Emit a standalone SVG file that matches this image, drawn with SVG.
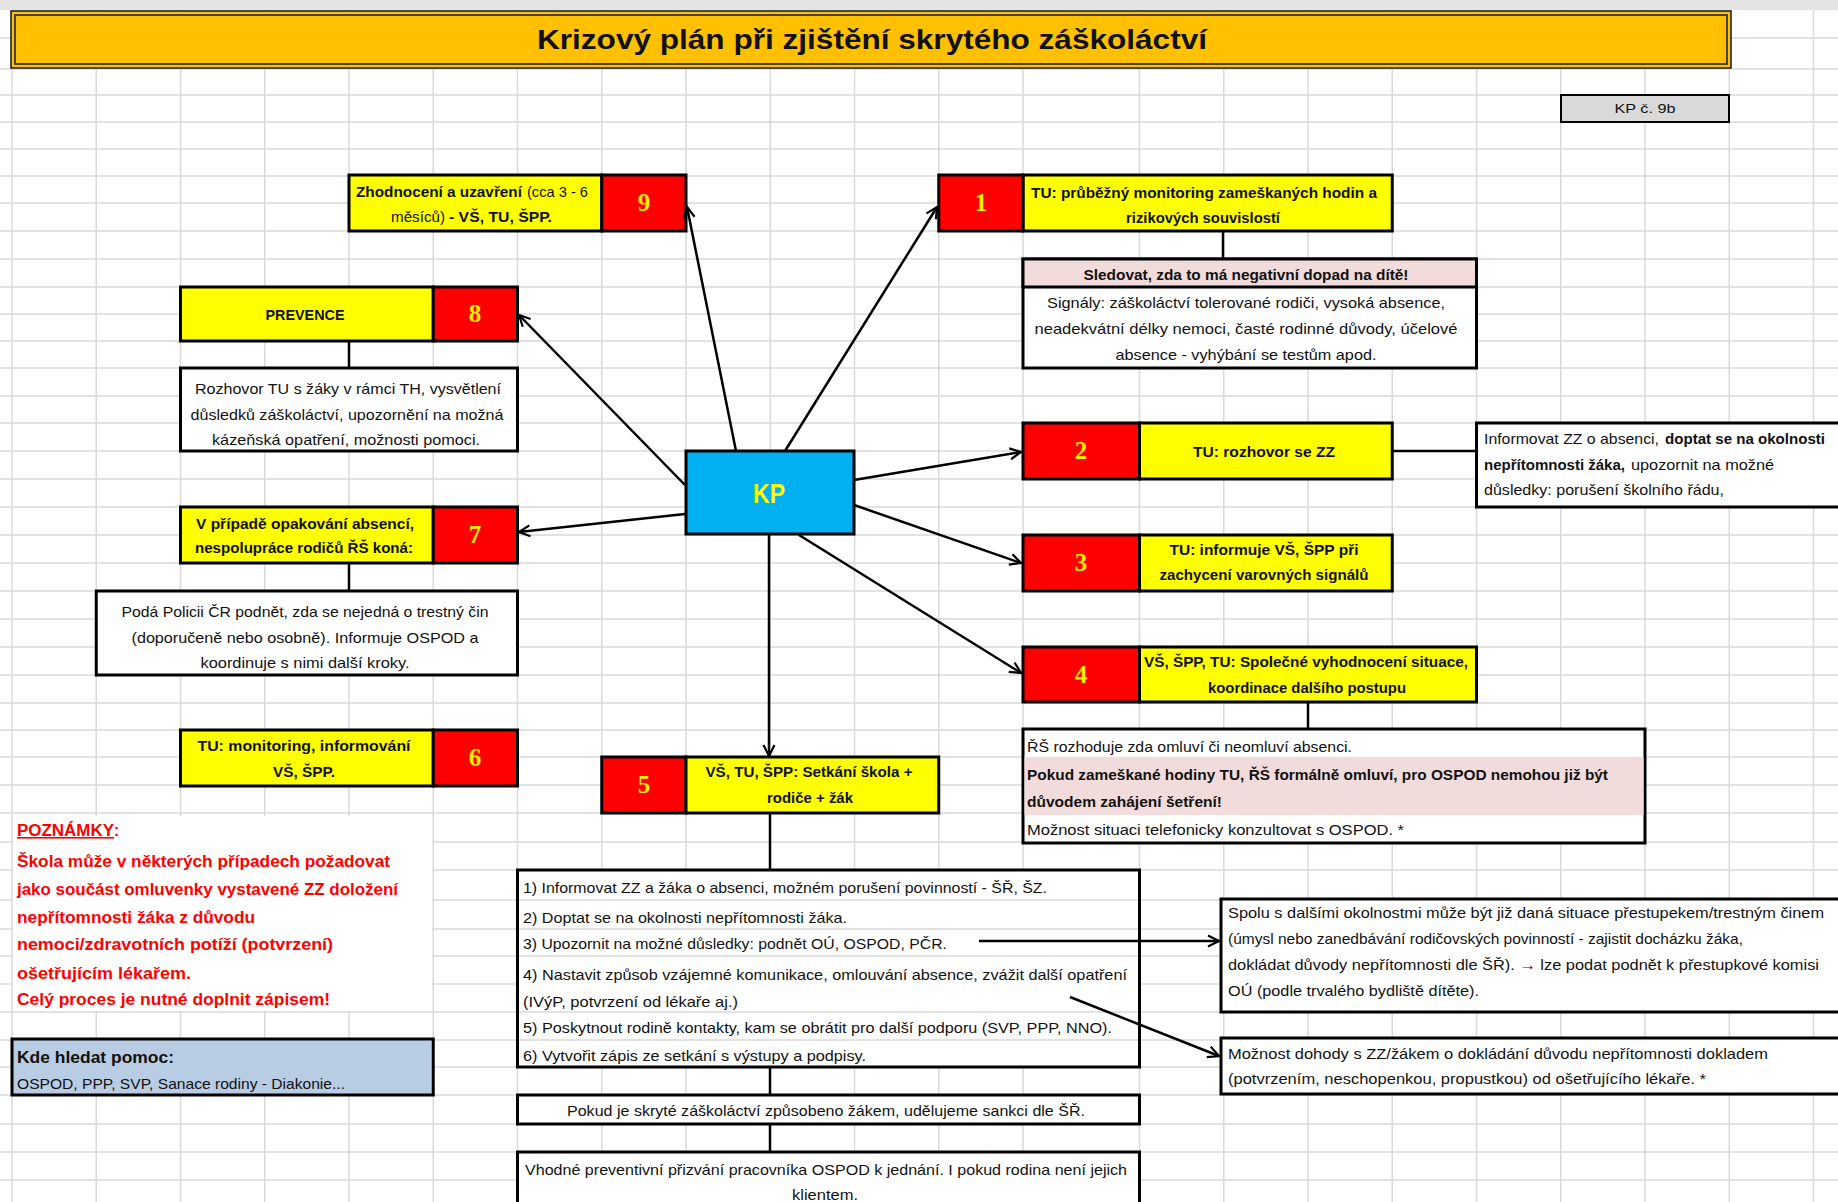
<svg xmlns="http://www.w3.org/2000/svg" width="1838" height="1202" viewBox="0 0 1838 1202">
<style>
  .grid line { stroke: #d9d9d9; stroke-width: 1.5; }
  .bx { stroke: #000; stroke-width: 3; }
  .thin { stroke: #000; stroke-width: 2; }
  .yel { fill: #ffff00; }
  .red { fill: #ff0000; }
  .wht { fill: #ffffff; }
  .pink { fill: #f2dcdb; }
  .t { font-family: "Liberation Sans", Arial, sans-serif; font-size: 15px; fill: #111; }
  .b { font-weight: bold; font-size: 15.5px; }
  .num { font-family: "Liberation Serif", "Times New Roman", serif; font-weight: bold; font-size: 25px; fill: #ffee00; text-anchor: middle; }
  .m { text-anchor: middle; }
  .note { font-family: "Liberation Sans", Arial, sans-serif; font-size: 16px; font-weight: bold; fill: #ff0000; }
  .conn line { stroke: #000; stroke-width: 2.5; fill: none; }
  .conn .arr { marker-end: url(#ah); }
</style>
<defs>
  <marker id="ah" viewBox="0 0 14 14" refX="12.5" refY="7" markerWidth="14" markerHeight="14" markerUnits="userSpaceOnUse" orient="auto">
    <path d="M1.5,1.5 L12.5,7 L1.5,12.5" fill="none" stroke="#000" stroke-width="2.2"/>
  </marker>
</defs>

<!-- sheet background and cell grid -->
<rect x="0" y="0" width="1838" height="1202" fill="#ffffff"/>
<rect x="0" y="0" width="1838" height="10" fill="#e4e4e4"/>
<g class="grid">
  <line x1="0" y1="38" x2="1838" y2="38"/>
  <line x1="0" y1="69" x2="1838" y2="69"/>
  <line x1="0" y1="95" x2="1838" y2="95"/>
  <line x1="0" y1="122" x2="1838" y2="122"/>
  <line x1="0" y1="149" x2="1838" y2="149"/>
  <line x1="0" y1="176" x2="1838" y2="176"/>
  <line x1="0" y1="203" x2="1838" y2="203"/>
  <line x1="0" y1="231" x2="1838" y2="231"/>
  <line x1="0" y1="259" x2="1838" y2="259"/>
  <line x1="0" y1="287" x2="1838" y2="287"/>
  <line x1="0" y1="314" x2="1838" y2="314"/>
  <line x1="0" y1="341" x2="1838" y2="341"/>
  <line x1="0" y1="368" x2="1838" y2="368"/>
  <line x1="0" y1="396" x2="1838" y2="396"/>
  <line x1="0" y1="423" x2="1838" y2="423"/>
  <line x1="0" y1="451" x2="1838" y2="451"/>
  <line x1="0" y1="479" x2="1838" y2="479"/>
  <line x1="0" y1="507" x2="1838" y2="507"/>
  <line x1="0" y1="535" x2="1838" y2="535"/>
  <line x1="0" y1="563" x2="1838" y2="563"/>
  <line x1="0" y1="591" x2="1838" y2="591"/>
  <line x1="0" y1="619" x2="1838" y2="619"/>
  <line x1="0" y1="647" x2="1838" y2="647"/>
  <line x1="0" y1="675" x2="1838" y2="675"/>
  <line x1="0" y1="703" x2="1838" y2="703"/>
  <line x1="0" y1="730" x2="1838" y2="730"/>
  <line x1="0" y1="757" x2="1838" y2="757"/>
  <line x1="0" y1="785" x2="1838" y2="785"/>
  <line x1="0" y1="813" x2="1838" y2="813"/>
  <line x1="0" y1="842" x2="1838" y2="842"/>
  <line x1="0" y1="870" x2="1838" y2="870"/>
  <line x1="0" y1="900" x2="1838" y2="900"/>
  <line x1="0" y1="929" x2="1838" y2="929"/>
  <line x1="0" y1="956" x2="1838" y2="956"/>
  <line x1="0" y1="984" x2="1838" y2="984"/>
  <line x1="0" y1="1012" x2="1838" y2="1012"/>
  <line x1="0" y1="1040" x2="1838" y2="1040"/>
  <line x1="0" y1="1067" x2="1838" y2="1067"/>
  <line x1="0" y1="1095" x2="1838" y2="1095"/>
  <line x1="0" y1="1124" x2="1838" y2="1124"/>
  <line x1="0" y1="1152" x2="1838" y2="1152"/>
  <line x1="0" y1="1180" x2="1838" y2="1180"/>
  <line x1="12" y1="10" x2="12" y2="1202"/>
  <line x1="96.25" y1="10" x2="96.25" y2="1202"/>
  <line x1="180.5" y1="10" x2="180.5" y2="1202"/>
  <line x1="264.75" y1="10" x2="264.75" y2="1202"/>
  <line x1="349" y1="10" x2="349" y2="1202"/>
  <line x1="433.25" y1="10" x2="433.25" y2="1202"/>
  <line x1="517.5" y1="10" x2="517.5" y2="1202"/>
  <line x1="601.75" y1="10" x2="601.75" y2="1202"/>
  <line x1="686" y1="10" x2="686" y2="1202"/>
  <line x1="770.25" y1="10" x2="770.25" y2="1202"/>
  <line x1="854.5" y1="10" x2="854.5" y2="1202"/>
  <line x1="938.75" y1="10" x2="938.75" y2="1202"/>
  <line x1="1023" y1="10" x2="1023" y2="1202"/>
  <line x1="1139.5" y1="10" x2="1139.5" y2="1202"/>
  <line x1="1223.75" y1="10" x2="1223.75" y2="1202"/>
  <line x1="1308" y1="10" x2="1308" y2="1202"/>
  <line x1="1392.25" y1="10" x2="1392.25" y2="1202"/>
  <line x1="1476.5" y1="10" x2="1476.5" y2="1202"/>
  <line x1="1560.75" y1="10" x2="1560.75" y2="1202"/>
  <line x1="1645" y1="10" x2="1645" y2="1202"/>
  <line x1="1729.25" y1="10" x2="1729.25" y2="1202"/>
  <line x1="1813.5" y1="10" x2="1813.5" y2="1202"/>
</g>

<!-- title banner -->
<g id="title">
  <rect x="11" y="11" width="1720" height="57" fill="#ffc000" stroke="#222" stroke-width="1.6"/>
  <rect x="15" y="15" width="1712" height="49" fill="none" stroke="#222" stroke-width="1.6"/>
  <text class="t b m" x="872" y="49" style="font-size:28px" textLength="670" lengthAdjust="spacingAndGlyphs">Krizový plán při zjištění skrytého záškoláctví</text>
</g>

<g id="kp-code">
  <rect x="1561" y="95" width="168" height="27" fill="#d9d9d9" class="thin"/>
  <text class="t m" x="1645" y="113" style="font-size:13px" textLength="61" lengthAdjust="spacingAndGlyphs">KP č. 9b</text>
</g>

<!-- central node -->
<g id="kp">
  <rect x="686" y="451" width="168" height="83" fill="#00b0f0" class="bx"/>
  <text class="t b m" x="769" y="503" style="font-size:28px;fill:#ffff00" textLength="32" lengthAdjust="spacingAndGlyphs">KP</text>
</g>

<!-- step 9 -->
<g id="step9">
  <rect x="349" y="175" width="252.75" height="56" class="yel bx"/>
  <rect x="601.75" y="175" width="84.25" height="56" class="red bx"/>
  <text class="t b" x="356" y="197" textLength="166" lengthAdjust="spacingAndGlyphs">Zhodnocení a uzavření</text>
  <text class="t" x="527" y="197" textLength="61" lengthAdjust="spacingAndGlyphs">(cca 3 - 6</text>
  <text class="t" x="391" y="222" textLength="54" lengthAdjust="spacingAndGlyphs">měsíců)</text>
  <text class="t b" x="449" y="222" textLength="103" lengthAdjust="spacingAndGlyphs">- VŠ, TU, ŠPP.</text>
  <text class="num" x="644" y="211">9</text>
</g>

<!-- step 1 -->
<g id="step1">
  <rect x="1023" y="175" width="369.25" height="56" class="yel bx"/>
  <rect x="938.75" y="175" width="84.25" height="56" class="red bx"/>
  <text class="t b m" x="1204" y="198" textLength="346" lengthAdjust="spacingAndGlyphs">TU: průběžný monitoring zameškaných hodin a</text>
  <text class="t b m" x="1203" y="223" textLength="154" lengthAdjust="spacingAndGlyphs">rizikových souvislostí</text>
  <text class="num" x="981" y="211">1</text>
</g>

<g id="signals">
  <rect x="1023" y="259" width="453.5" height="109" class="wht bx"/>
  <rect x="1023" y="259" width="453.5" height="28" class="pink bx"/>
  <text class="t b m" x="1246" y="280" textLength="325" lengthAdjust="spacingAndGlyphs">Sledovat, zda to má negativní dopad na dítě!</text>
  <text class="t m" x="1246" y="308" textLength="398" lengthAdjust="spacingAndGlyphs">Signály: záškoláctví tolerované rodiči, vysoká absence,</text>
  <text class="t m" x="1246" y="334" textLength="423" lengthAdjust="spacingAndGlyphs">neadekvátní délky nemoci, časté rodinné důvody, účelové</text>
  <text class="t m" x="1246" y="360" textLength="261" lengthAdjust="spacingAndGlyphs">absence - vyhýbání se testům apod.</text>
</g>

<!-- step 8 -->
<g id="step8">
  <rect x="180.5" y="287" width="252.75" height="54" class="yel bx"/>
  <rect x="433.25" y="287" width="84.25" height="54" class="red bx"/>
  <text class="t b m" x="305" y="320" textLength="79" lengthAdjust="spacingAndGlyphs">PREVENCE</text>
  <text class="num" x="475" y="322">8</text>
</g>

<g id="prevention-note">
  <rect x="180.5" y="368" width="337" height="83" class="wht bx"/>
  <text class="t m" x="348" y="394" textLength="306" lengthAdjust="spacingAndGlyphs">Rozhovor TU s žáky v rámci TH, vysvětlení</text>
  <text class="t m" x="347" y="420" textLength="313" lengthAdjust="spacingAndGlyphs">důsledků záškoláctví, upozornění na možná</text>
  <text class="t m" x="346" y="445" textLength="268" lengthAdjust="spacingAndGlyphs">kázeňská opatření, možnosti pomoci.</text>
</g>

<!-- step 7 -->
<g id="step7">
  <rect x="180.5" y="507" width="252.75" height="56" class="yel bx"/>
  <rect x="433.25" y="507" width="84.25" height="56" class="red bx"/>
  <text class="t b m" x="305" y="529" textLength="218" lengthAdjust="spacingAndGlyphs">V případě opakování absencí,</text>
  <text class="t b m" x="304" y="553" textLength="218" lengthAdjust="spacingAndGlyphs">nespolupráce rodičů ŘŠ koná:</text>
  <text class="num" x="475" y="543">7</text>
</g>

<g id="police-note">
  <rect x="96.25" y="591" width="421.25" height="84" class="wht bx"/>
  <text class="t m" x="305" y="617" textLength="367" lengthAdjust="spacingAndGlyphs">Podá Policii ČR podnět, zda se nejedná o trestný čin</text>
  <text class="t m" x="305" y="643" textLength="347" lengthAdjust="spacingAndGlyphs">(doporučeně nebo osobně). Informuje OSPOD a</text>
  <text class="t m" x="305" y="668" textLength="209" lengthAdjust="spacingAndGlyphs">koordinuje s nimi další kroky.</text>
</g>

<!-- step 6 -->
<g id="step6">
  <rect x="180.5" y="730" width="252.75" height="56" class="yel bx"/>
  <rect x="433.25" y="730" width="84.25" height="56" class="red bx"/>
  <text class="t b m" x="304" y="751" textLength="213" lengthAdjust="spacingAndGlyphs">TU: monitoring, informování</text>
  <text class="t b m" x="304" y="777" textLength="62" lengthAdjust="spacingAndGlyphs">VŠ, ŠPP.</text>
  <text class="num" x="475" y="766">6</text>
</g>

<!-- step 5 -->
<g id="step5">
  <rect x="601.75" y="757" width="84.25" height="56" class="red bx"/>
  <rect x="686" y="757" width="252.75" height="56" class="yel bx"/>
  <text class="t b m" x="809" y="777" textLength="207" lengthAdjust="spacingAndGlyphs">VŠ, TU, ŠPP: Setkání škola +</text>
  <text class="t b m" x="810" y="803" textLength="86" lengthAdjust="spacingAndGlyphs">rodiče + žák</text>
  <text class="num" x="644" y="793">5</text>
</g>

<g id="meeting-steps">
  <rect x="517.5" y="870" width="622" height="197" class="wht bx"/>
  <g class="grid">
    <line x1="519" y1="900" x2="1138" y2="900"/>
    <line x1="519" y1="929" x2="1138" y2="929"/>
    <line x1="519" y1="956" x2="1138" y2="956"/>
    <line x1="519" y1="1012" x2="1138" y2="1012"/>
    <line x1="519" y1="1040" x2="1138" y2="1040"/>
  </g>
  <text class="t" x="523" y="893" textLength="524" lengthAdjust="spacingAndGlyphs">1) Informovat ZZ a žáka o absenci, možném porušení povinností - ŠŘ, ŠZ.</text>
  <text class="t" x="523" y="923" textLength="324" lengthAdjust="spacingAndGlyphs">2) Doptat se na okolnosti nepřítomnosti žáka.</text>
  <text class="t" x="523" y="949" textLength="424" lengthAdjust="spacingAndGlyphs">3) Upozornit na možné důsledky: podnět OÚ, OSPOD, PČR.</text>
  <text class="t" x="523" y="980" textLength="604" lengthAdjust="spacingAndGlyphs">4) Nastavit způsob vzájemné komunikace, omlouvání absence, zvážit další opatření</text>
  <text class="t" x="523" y="1007" textLength="215" lengthAdjust="spacingAndGlyphs">(IVýP, potvrzení od lékaře aj.)</text>
  <text class="t" x="523" y="1033" textLength="589" lengthAdjust="spacingAndGlyphs">5) Poskytnout rodině kontakty, kam se obrátit pro další podporu (SVP, PPP, NNO).</text>
  <text class="t" x="523" y="1061" textLength="343" lengthAdjust="spacingAndGlyphs">6) Vytvořit zápis ze setkání s výstupy a podpisy.</text>
</g>

<g id="sanction">
  <rect x="517.5" y="1095" width="622" height="29" class="wht bx"/>
  <text class="t m" x="826" y="1116" textLength="518" lengthAdjust="spacingAndGlyphs">Pokud je skryté záškoláctví způsobeno žákem, udělujeme sankci dle ŠŘ.</text>
</g>

<g id="ospod-invite">
  <rect x="517.5" y="1152" width="622" height="70" class="wht bx"/>
  <text class="t m" x="826" y="1175" textLength="602" lengthAdjust="spacingAndGlyphs">Vhodné preventivní přizvání pracovníka OSPOD k jednání. I pokud rodina není jejich</text>
  <text class="t m" x="825" y="1200" textLength="66" lengthAdjust="spacingAndGlyphs">klientem.</text>
</g>

<!-- step 2 -->
<g id="step2">
  <rect x="1023" y="423" width="116.5" height="56" class="red bx"/>
  <rect x="1139.5" y="423" width="252.75" height="56" class="yel bx"/>
  <text class="t b m" x="1264" y="457" textLength="142" lengthAdjust="spacingAndGlyphs">TU: rozhovor se ZZ</text>
  <text class="num" x="1081" y="459">2</text>
</g>

<g id="parent-talk-note">
  <rect x="1476.5" y="423" width="380" height="84" class="wht bx"/>
  <text class="t" x="1484" y="444" textLength="175" lengthAdjust="spacingAndGlyphs">Informovat ZZ o absenci,</text>
  <text class="t b" x="1665" y="444" textLength="160" lengthAdjust="spacingAndGlyphs">doptat se na okolnosti</text>
  <text class="t b" x="1484" y="470" textLength="141" lengthAdjust="spacingAndGlyphs">nepřítomnosti žáka,</text>
  <text class="t" x="1631" y="470" textLength="143" lengthAdjust="spacingAndGlyphs">upozornit na možné</text>
  <text class="t" x="1484" y="495" textLength="240" lengthAdjust="spacingAndGlyphs">důsledky: porušení školního řádu,</text>
</g>

<!-- step 3 -->
<g id="step3">
  <rect x="1023" y="535" width="116.5" height="56" class="red bx"/>
  <rect x="1139.5" y="535" width="252.75" height="56" class="yel bx"/>
  <text class="t b m" x="1264" y="555" textLength="189" lengthAdjust="spacingAndGlyphs">TU: informuje VŠ, ŠPP při</text>
  <text class="t b m" x="1264" y="580" textLength="209" lengthAdjust="spacingAndGlyphs">zachycení varovných signálů</text>
  <text class="num" x="1081" y="571">3</text>
</g>

<!-- step 4 -->
<g id="step4">
  <rect x="1023" y="647" width="116.5" height="55" class="red bx"/>
  <rect x="1139.5" y="647" width="337" height="55" class="yel bx"/>
  <text class="t b m" x="1306" y="667" textLength="324" lengthAdjust="spacingAndGlyphs">VŠ, ŠPP, TU: Společné vyhodnocení situace,</text>
  <text class="t b m" x="1307" y="693" textLength="198" lengthAdjust="spacingAndGlyphs">koordinace dalšího postupu</text>
  <text class="num" x="1081" y="683">4</text>
</g>

<g id="headteacher-note">
  <rect x="1023" y="729" width="622" height="114" class="wht bx"/>
  <rect x="1024.5" y="757" width="619" height="58" class="pink"/>
  <text class="t" x="1027" y="752" textLength="325" lengthAdjust="spacingAndGlyphs">ŘŠ rozhoduje zda omluví či neomluví absenci.</text>
  <text class="t b" x="1027" y="780" textLength="581" lengthAdjust="spacingAndGlyphs">Pokud zameškané hodiny TU, ŘŠ formálně omluví, pro OSPOD nemohou již být</text>
  <text class="t b" x="1027" y="807" textLength="195" lengthAdjust="spacingAndGlyphs">důvodem zahájení šetření!</text>
  <text class="t" x="1027" y="835" textLength="377" lengthAdjust="spacingAndGlyphs">Možnost situaci telefonicky konzultovat s OSPOD. *</text>
</g>

<g id="offence-note">
  <rect x="1221" y="899" width="640" height="113" class="wht bx"/>
  <text class="t" x="1228" y="918" textLength="596" lengthAdjust="spacingAndGlyphs">Spolu s dalšími okolnostmi může být již daná situace přestupekem/trestným činem</text>
  <text class="t" x="1228" y="944" textLength="515" lengthAdjust="spacingAndGlyphs">(úmysl nebo zanedbávání rodičovských povinností - zajistit docházku žáka,</text>
  <text class="t" x="1228" y="970" textLength="591" lengthAdjust="spacingAndGlyphs">dokládat důvody nepřítomnosti dle ŠŘ). → lze podat podnět k přestupkové komisi</text>
  <text class="t" x="1228" y="996" textLength="251" lengthAdjust="spacingAndGlyphs">OÚ (podle trvalého bydliště dítěte).</text>
</g>

<g id="doctor-note">
  <rect x="1221" y="1038" width="640" height="56" class="wht bx"/>
  <text class="t" x="1228" y="1059" textLength="540" lengthAdjust="spacingAndGlyphs">Možnost dohody s ZZ/žákem o dokládání důvodu nepřítomnosti dokladem</text>
  <text class="t" x="1228" y="1084" textLength="478" lengthAdjust="spacingAndGlyphs">(potvrzením, neschopenkou, propustkou) od ošetřujícího lékaře. *</text>
</g>

<!-- connectors: arrows out of KP, plain links to detail boxes -->
<g id="connectors" class="conn">
  <line class="arr" x1="736" y1="451" x2="687" y2="207"/>
  <line class="arr" x1="785" y1="451" x2="937" y2="207"/>
  <line class="arr" x1="685" y1="485" x2="519" y2="315"/>
  <line class="arr" x1="685" y1="514" x2="519" y2="532"/>
  <line class="arr" x1="854" y1="480" x2="1021" y2="452"/>
  <line class="arr" x1="854" y1="505" x2="1021" y2="563"/>
  <line class="arr" x1="799" y1="535" x2="1021" y2="673"/>
  <line class="arr" x1="769" y1="535" x2="769" y2="756"/>
  <line class="arr" x1="979" y1="941" x2="1219" y2="941"/>
  <line class="arr" x1="1070" y1="997" x2="1219" y2="1056"/>
  <line x1="1223" y1="231" x2="1223" y2="259"/>
  <line x1="349" y1="341" x2="349" y2="368"/>
  <line x1="349" y1="563" x2="349" y2="591"/>
  <line x1="1392" y1="451" x2="1477" y2="451"/>
  <line x1="1308" y1="702" x2="1308" y2="729"/>
  <line x1="770" y1="813" x2="770" y2="870"/>
  <line x1="770" y1="1067" x2="770" y2="1095"/>
  <line x1="770" y1="1124" x2="770" y2="1152"/>
</g>

<!-- notes in the left margin -->
<g id="notes">
  <rect x="13" y="816" width="419" height="195" fill="#ffffff"/>
  <text class="note" x="17" y="836" text-decoration="underline" textLength="97" lengthAdjust="spacingAndGlyphs">POZNÁMKY</text>
  <text class="note" x="114" y="836">:</text>
  <text class="note" x="17" y="867" textLength="373" lengthAdjust="spacingAndGlyphs">Škola může v některých případech požadovat</text>
  <text class="note" x="17" y="895" textLength="381" lengthAdjust="spacingAndGlyphs">jako součást omluvenky vystavené ZZ doložení</text>
  <text class="note" x="17" y="923" textLength="238" lengthAdjust="spacingAndGlyphs">nepřítomnosti žáka z důvodu</text>
  <text class="note" x="17" y="950" textLength="316" lengthAdjust="spacingAndGlyphs">nemoci/zdravotních potíží (potvrzení)</text>
  <text class="note" x="17" y="979" textLength="174" lengthAdjust="spacingAndGlyphs">ošetřujícím lékařem.</text>
  <text class="note" x="17" y="1005" textLength="313" lengthAdjust="spacingAndGlyphs">Celý proces je nutné doplnit zápisem!</text>
</g>

<g id="help">
  <rect x="12" y="1039" width="421.25" height="56" fill="#b8cce4" class="bx"/>
  <text class="t b" x="17" y="1063" style="font-size:16.5px" textLength="157" lengthAdjust="spacingAndGlyphs">Kde hledat pomoc:</text>
  <text class="t" x="17" y="1089" textLength="328" lengthAdjust="spacingAndGlyphs">OSPOD, PPP, SVP, Sanace rodiny - Diakonie...</text>
</g>
</svg>
